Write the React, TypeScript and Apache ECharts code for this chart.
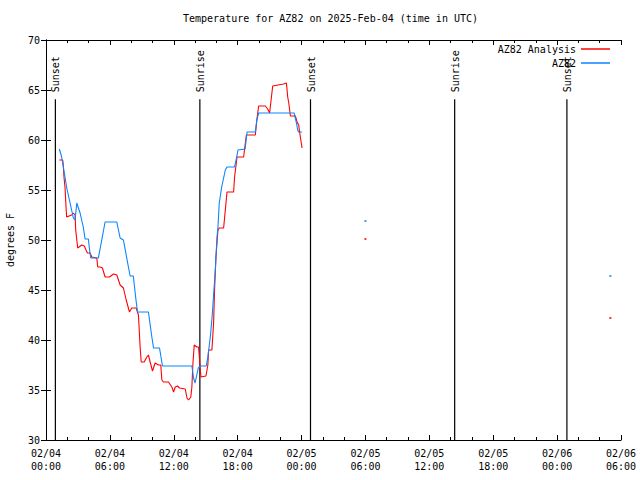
import React, { useEffect, useRef } from "react";
import * as echarts from "echarts";

// hours since 2025-02-04 00:00 UTC
const obsHours = [1.25, 1.45, 1.63, 1.95, 2.26, 2.57, 2.73, 2.89, 3.2, 3.5, 3.67, 3.98, 4.07, 4.2, 4.92, 5.55, 6.65, 6.96, 7.27, 7.74, 7.9, 8.2, 8.45, 8.6, 9.62, 9.94, 10.1, 10.66, 10.94, 13.7, 13.86, 14.0, 14.3, 14.5, 15.05, 15.2, 15.43, 15.6, 15.9, 16.06, 16.15, 16.27, 16.5, 16.84, 17.0, 17.7, 17.85, 18.03, 18.7, 18.88, 19.66, 19.8, 19.97, 23.3, 23.5, 23.64, 23.73, 24.05];
const obsTemps = [59.1, 58.4, 57.3, 55.2, 53.7, 52.2, 52.0, 53.7, 52.7, 51.3, 50.1, 50.1, 49.2, 48.2, 48.2, 51.8, 51.8, 50.2, 50.0, 47.3, 46.4, 46.4, 44.0, 42.8, 42.8, 40.3, 39.2, 39.2, 37.4, 37.4, 36.2, 35.7, 37.2, 37.4, 37.4, 38.3, 40.3, 42.3, 47.0, 50.3, 51.3, 53.7, 55.3, 57.0, 57.3, 57.3, 58.0, 59.0, 59.1, 60.8, 60.8, 62.0, 62.7, 62.7, 61.8, 61.0, 60.8, 60.8];

const anaHours = [1.25, 1.57, 1.62, 1.69, 1.79, 1.88, 1.94, 2.41, 2.57, 2.73, 2.79, 2.89, 2.98, 3.36, 3.6, 3.76, 3.89, 4.14, 4.3, 4.77, 4.86, 5.08, 5.3, 5.55, 5.96, 6.34, 6.65, 6.96, 7.27, 7.53, 7.84, 8.06, 8.47, 8.68, 8.84, 8.94, 9.22, 9.47, 9.62, 9.78, 10.0, 10.25, 10.56, 10.78, 10.88, 11.03, 11.5, 11.82, 11.98, 12.14, 12.35, 12.54, 13.08, 13.24, 13.39, 13.6, 13.7, 13.8, 13.92, 14.17, 14.33, 14.42, 14.55, 15.02, 15.12, 15.2, 15.27, 15.58, 15.74, 15.83, 15.96, 16.15, 16.27, 16.68, 16.84, 17.0, 17.62, 17.71, 17.94, 18.56, 18.72, 18.82, 19.66, 19.8, 19.97, 20.6, 20.82, 21.0, 21.14, 21.29, 21.8, 22.3, 22.58, 22.7, 22.8, 22.95, 23.42, 23.58, 23.73, 23.83, 23.96, 24.05];
const anaTemps = [58.0, 58.0, 57.5, 56.3, 55.2, 53.3, 52.3, 52.5, 52.7, 52.5, 51.0, 50.0, 49.2, 49.5, 49.4, 49.0, 48.7, 48.7, 48.3, 48.2, 47.3, 47.3, 47.2, 46.3, 46.3, 46.6, 46.5, 45.5, 45.2, 44.0, 42.8, 43.2, 43.2, 42.5, 39.3, 37.8, 37.8, 38.3, 38.5, 37.8, 36.9, 37.7, 37.5, 37.5, 36.0, 35.8, 35.8, 35.3, 34.8, 35.3, 35.4, 35.2, 35.1, 34.2, 34.0, 34.3, 35.3, 37.7, 39.5, 39.3, 39.3, 38.0, 36.3, 36.4, 37.0, 37.5, 39.0, 39.0, 41.7, 45.0, 48.3, 51.0, 51.2, 51.2, 53.0, 54.8, 54.8, 56.3, 58.3, 58.3, 59.7, 60.5, 60.5, 62.0, 63.4, 63.4, 63.1, 62.7, 64.0, 65.4, 65.5, 65.6, 65.7, 64.3, 63.7, 62.4, 62.4, 61.8, 61.5, 60.7, 59.8, 59.2];

// isolated points
const obsDotHours = [30.0, 53.0];
const obsDotTemps = [51.9, 46.4];
const anaDotHours = [30.0, 53.0];
const anaDotTemps = [50.1, 42.2];

const sunHours = [0.88, 14.45, 24.84, 38.38, 48.92];
const sunLabels = ["Sunset", "Sunrise", "Sunset", "Sunrise", "Sunset"];

const xTickLabels = ["02/04\n00:00", "02/04\n06:00", "02/04\n12:00", "02/04\n18:00", "02/05\n00:00", "02/05\n06:00", "02/05\n12:00", "02/05\n18:00", "02/06\n00:00", "02/06\n06:00"];

const TITLE = "Temperature for AZ82 on 2025-Feb-04 (time in UTC)";
const ANA_NAME = "AZ82 Analysis";
const OBS_NAME = "AZ82";
const RED = "#ff0000";
const BLUE = "#0a84ff";
const FONT = "DejaVu Sans Mono";

const zip = (a: number[], b: number[]) => a.map((v, i) => [v, b[i]]);

export default function App() {
  const ref = useRef<HTMLDivElement>(null);
  useEffect(() => {
    if (!ref.current) return;
    const chart = echarts.init(ref.current, null, { renderer: "svg" });
    const xCommon = {
      type: "value" as const,
      min: 0,
      max: 54,
      interval: 6,
      axisLine: { show: true, lineStyle: { color: "#000", width: 1 } },
      axisTick: { show: true, inside: true, length: 5, lineStyle: { color: "#000" } },
      minorTick: { show: true, splitNumber: 3, length: 3, lineStyle: { color: "#000" } },
      splitLine: { show: false },
    };
    const yCommon = {
      type: "value" as const,
      min: 30,
      max: 70,
      interval: 5,
      axisLine: { show: true, lineStyle: { color: "#000", width: 1 } },
      axisTick: { show: true, inside: true, length: 5, lineStyle: { color: "#000" } },
      splitLine: { show: false },
    };
    const textStyle = { fontFamily: FONT, fontSize: 10, color: "#000" };
    chart.setOption({
      animation: false,
      backgroundColor: "#fff",
      textStyle,
      title: {
        text: TITLE,
        left: 183,
        top: 13,
        padding: 0,
        textStyle: { ...textStyle, fontWeight: "normal" },
      },
      legend: [
        {
          data: [ANA_NAME],
          right: 30,
          top: 44,
          padding: 0,
          align: "right",
          icon: "rect",
          itemWidth: 29,
          itemHeight: 1.5,
          selectedMode: false,
          textStyle,
        },
        {
          data: [OBS_NAME],
          right: 30,
          top: 58,
          padding: 0,
          align: "right",
          icon: "rect",
          itemWidth: 29,
          itemHeight: 1.5,
          selectedMode: false,
          textStyle,
        },
      ],
      grid: { left: 46, right: 19, top: 40, bottom: 40, containLabel: false, outerBoundsMode: "none" },
      xAxis: [
        {
          ...xCommon,
          position: "bottom",
          axisLabel: {
            ...textStyle,
            margin: 7,
            lineHeight: 13,
            showMaxLabel: true,
            showMinLabel: true,
            formatter: (v: number) => xTickLabels[Math.round(v / 6)] ?? "",
          },
        },
        { ...xCommon, position: "top", axisLabel: { show: false } },
      ],
      yAxis: [
        {
          ...yCommon,
          position: "left",
          name: "degrees F",
          nameLocation: "middle",
          nameRotate: 90,
          nameGap: 31,
          nameTextStyle: textStyle,
          axisLabel: { ...textStyle, margin: 6 },
        },
        { ...yCommon, position: "right", axisLabel: { show: false } },
      ],
      series: [
        {
          type: "custom",
          name: "sun",
          silent: true,
          data: sunHours.map((h, i) => [h, i]),
          renderItem: (params: any, api: any) => {
            const t = api.value(0);
            const idx = api.value(1);
            const b = api.coord([t, 30]);
            const tp = api.coord([t, 64.07]);
            return {
              type: "group",
              children: [
                {
                  type: "line",
                  shape: { x1: b[0], y1: b[1], x2: tp[0], y2: tp[1] },
                  style: { stroke: "#000", lineWidth: 1.2 },
                },
                {
                  type: "text",
                  x: tp[0] + 0.5,
                  y: tp[1] - 7,
                  rotation: Math.PI / 2,
                  style: {
                    text: sunLabels[idx],
                    fill: "#000",
                    font: `10px "${FONT}"`,
                    textAlign: "left",
                    textVerticalAlign: "middle",
                  },
                },
              ],
            };
          },
        },
        {
          type: "line",
          name: ANA_NAME,
          data: zip(anaHours, anaTemps),
          showSymbol: false,
          lineStyle: { color: RED, width: 1.1 },
          itemStyle: { color: RED },
        },
        {
          type: "line",
          name: OBS_NAME,
          data: zip(obsHours, obsTemps),
          showSymbol: false,
          lineStyle: { color: BLUE, width: 1.1 },
          itemStyle: { color: BLUE },
        },
        {
          type: "scatter",
          name: ANA_NAME,
          data: zip(anaDotHours, anaDotTemps),
          symbol: "rect",
          symbolSize: 2,
          itemStyle: { color: RED },
        },
        {
          type: "scatter",
          name: OBS_NAME,
          data: zip(obsDotHours, obsDotTemps),
          symbol: "rect",
          symbolSize: 2,
          itemStyle: { color: BLUE },
        },
      ],
    });
    return () => chart.dispose();
  }, []);
  return <div ref={ref} style={{ width: 640, height: 480, position: "absolute", left: 0, top: 0 }} />;
}
